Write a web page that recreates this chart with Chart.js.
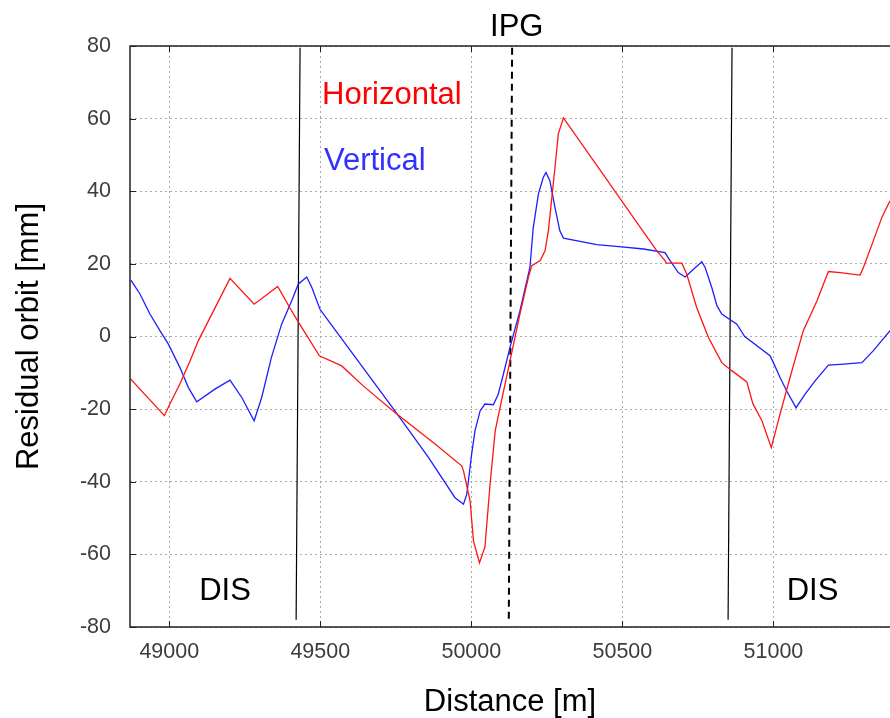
<!DOCTYPE html>
<html>
<head>
<meta charset="utf-8">
<script src="https://cdn.jsdelivr.net/npm/chart.js@4/dist/chart.umd.min.js"></script>
<style>
  body { margin: 0; background: #fff; }
</style>
</head>
<body>
<canvas id="orbitCanvas" width="890" height="718"></canvas>
<script>
// residual orbit
let hDist = [48871, 48984, 49002, 49035, 49069, 49096, 49201, 49281, 49359, 49402, 49425, 49497, 49571, 49642, 49747, 49880, 49968, 49974, 49996, 50007, 50027, 50045, 50062, 50079, 50095, 50128, 50161, 50189, 50200, 50228, 50244, 50255, 50277, 50288, 50305, 50614, 50641, 50646, 50697, 50713, 50746, 50785, 50829, 50862, 50912, 50932, 50962, 50993, 51022, 51055, 51099, 51144, 51182, 51221, 51287, 51298, 51331, 51359, 51386];
let hOrbit = [-11.6, -21.8, -18.6, -13.1, -6.7, -1.2, 16.0, 8.9, 13.8, 7.5, 4.3, -5.3, -8.1, -13.6, -20.9, -29.6, -35.6, -37, -45.3, -56.3, -62.3, -58, -40.7, -26, -19.6, -6.7, 6.2, 16.3, 19.5, 20.9, 23.6, 29.1, 46.6, 55.8, 60.2, 23.6, 20.9, 20.2, 20.2, 17.2, 8, -0.3, -7.2, -9.4, -12.5, -18.5, -23.2, -30.6, -21.4, -11.3, 1.6, 9.8, 17.9, 17.6, 16.9, 19.0, 26.4, 32.8, 37.4];

let vDist = [48873, 48903, 48936, 48969, 48997, 49035, 49063, 49091, 49151, 49201, 49240, 49281, 49306, 49338, 49372, 49405, 49427, 49455, 49472, 49499, 49527, 49747, 49858, 49946, 49974, 49985, 50001, 50012, 50029, 50045, 50073, 50089, 50106, 50128, 50161, 50194, 50205, 50222, 50238, 50247, 50260, 50277, 50293, 50305, 50415, 50498, 50570, 50641, 50658, 50685, 50708, 50730, 50763, 50774, 50796, 50813, 50829, 50879, 50905, 50989, 51000, 51022, 51044, 51075, 51105, 51138, 51182, 51232, 51293, 51331, 51386];
let vOrbit = [15.5, 11.7, 6.2, 1.6, -2.1, -8.5, -14, -18, -14.5, -12, -16.8, -23.2, -16.8, -5.8, 3.4, 9.8, 14.4, 16.4, 13.5, 7.5, 4.3, -20.5, -33.3, -44.4, -46.2, -43.4, -32.4, -26, -20.5, -18.6, -18.8, -15.9, -10.4, -3, 7.1, 19, 30, 39.2, 43.8, 45.2, 42.9, 35.5, 29.1, 27.1, 25.3, 24.7, 24.1, 23.1, 20.9, 17.6, 16.4, 18.1, 20.6, 19, 13.5, 8.5, 6.2, 3.4, 0, -5.3, -7.2, -11.3, -15, -19.6, -15.9, -12.2, -7.9, -7.6, -7.2, -3.9, 1.6];

// marker lines (x at top, x at bottom) and their y span
let disLeftX = [49433, 49420];
let disRightX = [50863, 50850];
let ipgX = [50135, 50124];
let markerY = [79.5, -78];

let xTicks = [49000, 49500, 50000, 50500, 51000];
let yTicks = [-80, -60, -40, -20, 0, 20, 40, 60, 80];

let notes = [
    { text: 'Horizontal', x: 49506, y: 64.1, color: '#ff0000' },
    { text: 'Vertical', x: 49512, y: 45.9, color: '#3030ff' },
    { text: 'IPG', x: 50062, y: 82.8, color: '#000' },
    { text: 'DIS', x: 49099, y: -72.5, color: '#000' },
    { text: 'DIS', x: 51044, y: -72.5, color: '#000' }
];

let toPoints = function (xs, ys) {
    return xs.map(function (v, i) { return { x: v, y: ys[i] }; });
};

const FONT = '"Liberation Sans", Arial, sans-serif';

let overlay = {
    id: 'overlay',
    afterDatasetsDraw: function (chart) {
        let ctx = chart.ctx;
        let a = chart.chartArea;
        let xs = chart.scales.x, ys = chart.scales.y;
        ctx.save();
        ctx.strokeStyle = '#222';
        ctx.lineWidth = 1.5;
        ctx.beginPath();
        ctx.moveTo(a.right, a.top);
        ctx.lineTo(a.left, a.top);
        ctx.lineTo(a.left, a.bottom);
        ctx.lineTo(a.right, a.bottom);
        ctx.stroke();
        // inward tick marks
        ctx.lineWidth = 1;
        ctx.beginPath();
        xTicks.forEach(function (v) {
            let px = Math.round(xs.getPixelForValue(v)) + 0.5;
            ctx.moveTo(px, a.top); ctx.lineTo(px, a.top + 6);
            ctx.moveTo(px, a.bottom); ctx.lineTo(px, a.bottom - 6);
        });
        yTicks.forEach(function (v) {
            let py = Math.round(ys.getPixelForValue(v)) + 0.5;
            ctx.moveTo(a.left, py); ctx.lineTo(a.left + 6, py);
        });
        ctx.stroke();

        ctx.font = '31px ' + FONT;
        ctx.textBaseline = 'alphabetic';
        ctx.textAlign = 'left';
        notes.forEach(function (n) {
            ctx.fillStyle = n.color;
            ctx.fillText(n.text, xs.getPixelForValue(n.x), ys.getPixelForValue(n.y));
        });
        ctx.restore();
    }
};

let markerSet = function (xs, dash, width) {
    return {
        data: toPoints(xs, markerY),
        showLine: true,
        borderColor: '#000',
        borderWidth: width,
        borderDash: dash,
        pointRadius: 0,
        fill: false
    };
};

let orbitChartDraw = function () {
    let ctx = document.getElementById('orbitCanvas').getContext('2d');

    window.orbitChart = new Chart(ctx, {
        type: 'scatter',
        data: {
            datasets: [
                {
                    label: 'Horizontal',
                    data: toPoints(hDist, hOrbit),
                    showLine: true,
                    borderColor: 'rgb(255, 20, 20)',
                    borderWidth: 1.3,
                    pointRadius: 0,
                    tension: 0
                },
                {
                    label: 'Vertical',
                    data: toPoints(vDist, vOrbit),
                    showLine: true,
                    borderColor: 'rgb(30, 30, 255)',
                    borderWidth: 1.3,
                    pointRadius: 0,
                    tension: 0
                },
                markerSet(disLeftX, [], 1.2),
                markerSet(disRightX, [], 1.2),
                markerSet(ipgX, [7, 5], 2)
            ]
        },
        options: {
            responsive: false,
            animation: false,
            events: [],
            layout: { padding: { top: 46, right: 0, left: 0, bottom: 0 } },
            plugins: {
                legend: { display: false },
                tooltip: { enabled: false }
            },
            scales: {
                x: {
                    type: 'linear',
                    min: 48870,
                    max: 51386,
                    afterBuildTicks: function (scale) {
                        scale.ticks = xTicks.map(function (v) { return { value: v }; });
                    },
                    afterFit: function (scale) { scale.height = 91; },
                    ticks: {
                        autoSkip: false,
                        maxRotation: 0,
                        padding: 12,
                        color: '#3c3c3c',
                        font: { family: FONT, size: 21.5 },
                        callback: function (v) { return String(v); }
                    },
                    grid: { color: '#aaaaaa', lineWidth: 1, drawTicks: false },
                    border: { display: false, dash: [2, 3] },
                    title: {
                        display: true,
                        text: 'Distance [m]',
                        color: '#000',
                        font: { family: FONT, size: 31, lineHeight: 1 },
                        padding: { top: 0, bottom: 0 }
                    }
                },
                y: {
                    min: -80,
                    max: 80,
                    afterBuildTicks: function (scale) {
                        scale.ticks = yTicks.map(function (v) { return { value: v }; });
                    },
                    afterFit: function (scale) { scale.width = 130; },
                    ticks: {
                        padding: 19,
                        color: '#3c3c3c',
                        font: { family: FONT, size: 21.5 }
                    },
                    grid: { color: '#aaaaaa', lineWidth: 1, drawTicks: false },
                    border: { display: false, dash: [2, 3] },
                    title: {
                        display: true,
                        text: 'Residual orbit [mm]',
                        color: '#000',
                        font: { family: FONT, size: 31, lineHeight: 1 },
                        padding: { top: 14, bottom: 0 }
                    }
                }
            }
        },
        plugins: [overlay]
    });
};

window.onload = function () {
    orbitChartDraw();
};
</script>
</body>
</html>
